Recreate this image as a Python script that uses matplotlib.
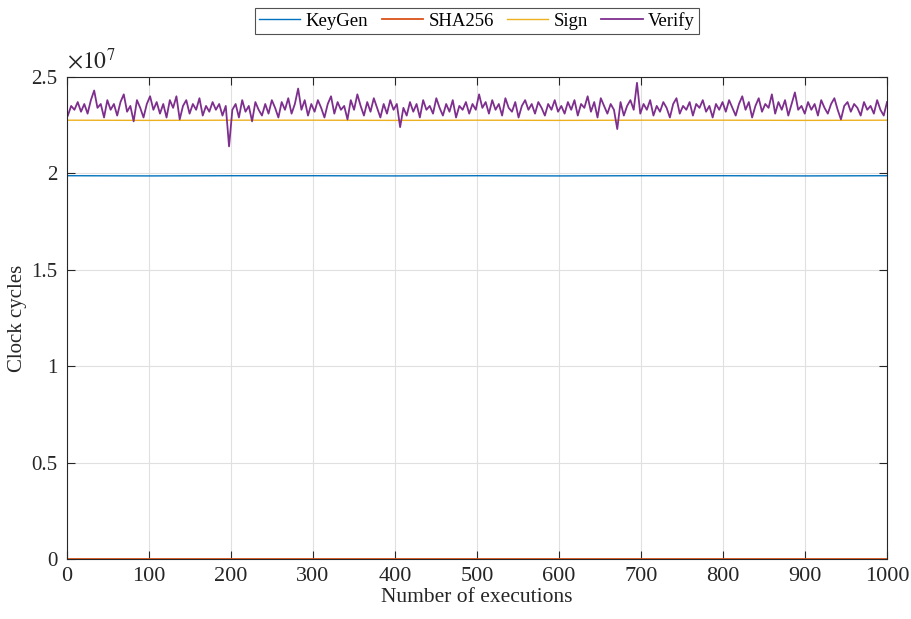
"""
Clock cycles per operation over repeated executions.
"""

import numpy as np
import matplotlib.pyplot as plt
from matplotlib.ticker import FuncFormatter

plt.rcParams['font.family'] = ['Liberation Serif', 'DejaVu Serif']
plt.rcParams['mathtext.fontset'] = 'stix'

# values in units of 1e7 clock cycles
keygen = [1.988, 1.987, 1.988, 1.988, 1.987, 1.988, 1.987, 1.988, 1.988, 1.987, 1.988]
sha256 = [0.002, 0.002, 0.002, 0.002, 0.002, 0.002, 0.002, 0.002, 0.002, 0.002, 0.002]
sign = [2.276, 2.275, 2.276, 2.276, 2.275, 2.276, 2.275, 2.276, 2.276, 2.275, 2.276]
verify = [
    2.30, 2.35, 2.33, 2.37, 2.32, 2.36, 2.31, 2.38, 2.43, 2.34, 2.36, 2.29, 2.38,
    2.33, 2.36, 2.30, 2.37, 2.41, 2.32, 2.35, 2.27, 2.38, 2.34, 2.29, 2.36,
    2.40, 2.33, 2.37, 2.31, 2.36, 2.29, 2.38, 2.34, 2.40, 2.28, 2.35, 2.38, 2.31,
    2.36, 2.33, 2.39, 2.30, 2.35, 2.32, 2.37, 2.33, 2.36, 2.30, 2.35, 2.14,
    2.33, 2.36, 2.29, 2.38, 2.32, 2.35, 2.27, 2.37, 2.33, 2.30, 2.36, 2.31, 2.38,
    2.34, 2.29, 2.37, 2.33, 2.39, 2.31, 2.36, 2.44, 2.33, 2.38, 2.30, 2.36,
    2.32, 2.38, 2.34, 2.29, 2.36, 2.40, 2.31, 2.37, 2.33, 2.35, 2.28, 2.38, 2.33,
    2.41, 2.35, 2.30, 2.37, 2.32, 2.39, 2.34, 2.29, 2.36, 2.31, 2.38, 2.33,
    2.36, 2.24, 2.34, 2.30, 2.37, 2.32, 2.36, 2.29, 2.38, 2.33, 2.35, 2.31, 2.39,
    2.34, 2.30, 2.36, 2.32, 2.38, 2.29, 2.35, 2.33, 2.37, 2.31, 2.36, 2.33,
    2.41, 2.34, 2.37, 2.31, 2.38, 2.33, 2.36, 2.30, 2.39, 2.34, 2.32, 2.37, 2.29,
    2.35, 2.38, 2.33, 2.36, 2.31, 2.37, 2.34, 2.30, 2.36, 2.33, 2.38, 2.32,
    2.35, 2.31, 2.37, 2.33, 2.38, 2.30, 2.36, 2.34, 2.40, 2.32, 2.37, 2.29, 2.39,
    2.35, 2.31, 2.36, 2.33, 2.23, 2.37, 2.30, 2.35, 2.38, 2.33, 2.47, 2.31,
    2.36, 2.33, 2.38, 2.30, 2.35, 2.32, 2.37, 2.34, 2.29, 2.36, 2.39, 2.31, 2.35,
    2.33, 2.37, 2.30, 2.36, 2.34, 2.38, 2.32, 2.35, 2.29, 2.36, 2.33, 2.37,
    2.32, 2.38, 2.34, 2.30, 2.36, 2.40, 2.33, 2.37, 2.29, 2.35, 2.39, 2.32, 2.36,
    2.34, 2.41, 2.31, 2.37, 2.33, 2.38, 2.30, 2.36, 2.42, 2.33, 2.35, 2.31,
    2.37, 2.33, 2.36, 2.30, 2.38, 2.34, 2.31, 2.36, 2.39, 2.33, 2.28, 2.35, 2.37,
    2.32, 2.36, 2.34, 2.30, 2.37, 2.33, 2.35, 2.31, 2.38, 2.33, 2.30, 2.37,
]

n_exec = 1000
colors = {
    "KeyGen": "#0072BD",
    "SHA256": "#D95319",
    "Sign": "#EDB120",
    "Verify": "#7E2F8E",
}

fig = plt.figure(figsize=(9.12, 6.19), dpi=100)
ax = fig.add_axes([0.0735, 0.0969, 0.8991, 0.7787])

series = [("KeyGen", keygen, 1.0), ("SHA256", sha256, 1.3),
          ("Sign", sign, 1.0), ("Verify", verify, 1.3)]
for name, vals, lw in series:
    x = np.linspace(1, n_exec, len(vals))
    ax.plot(x, vals, color=colors[name], linewidth=lw, label=name)

ax.set_xlim(0, 1000)
ax.set_ylim(0, 2.5)
ax.set_xticks(np.arange(0, 1001, 100))
ax.set_yticks(np.arange(0, 2.51, 0.5))
ax.yaxis.set_major_formatter(FuncFormatter(lambda v, p: f"{v:g}"))
ax.tick_params(direction='in', top=True, right=True, labelsize=16,
               colors='#262626', length=6, width=0.8)
ax.tick_params(axis='x', pad=6)
ax.tick_params(axis='y', pad=7, labelsize=15)
ax.grid(True, color='#e0e0e0', linewidth=0.8)
for s in ax.spines.values():
    s.set_color('#262626')
    s.set_linewidth(0.8)

ax.set_xlabel("Number of executions", fontsize=15.5, color='#262626', labelpad=1)
ax.set_ylabel("Clock cycles", fontsize=15, color='#262626', labelpad=3)
ax.text(0.0, 1.008, r"$\times10^{7}$", transform=ax.transAxes, fontsize=17,
        color='#262626', ha='left', va='bottom')

leg = ax.legend(loc='lower center', bbox_to_anchor=(0.5, 1.09), ncol=4,
                fontsize=13.5, frameon=True, fancybox=False, edgecolor='#262626',
                handlelength=2.2, columnspacing=0.7, handletextpad=0.3,
                borderpad=0.2, labelspacing=0.2, borderaxespad=0.0)
leg.get_frame().set_linewidth(0.8)

fig.savefig("out.png", dpi=100)
